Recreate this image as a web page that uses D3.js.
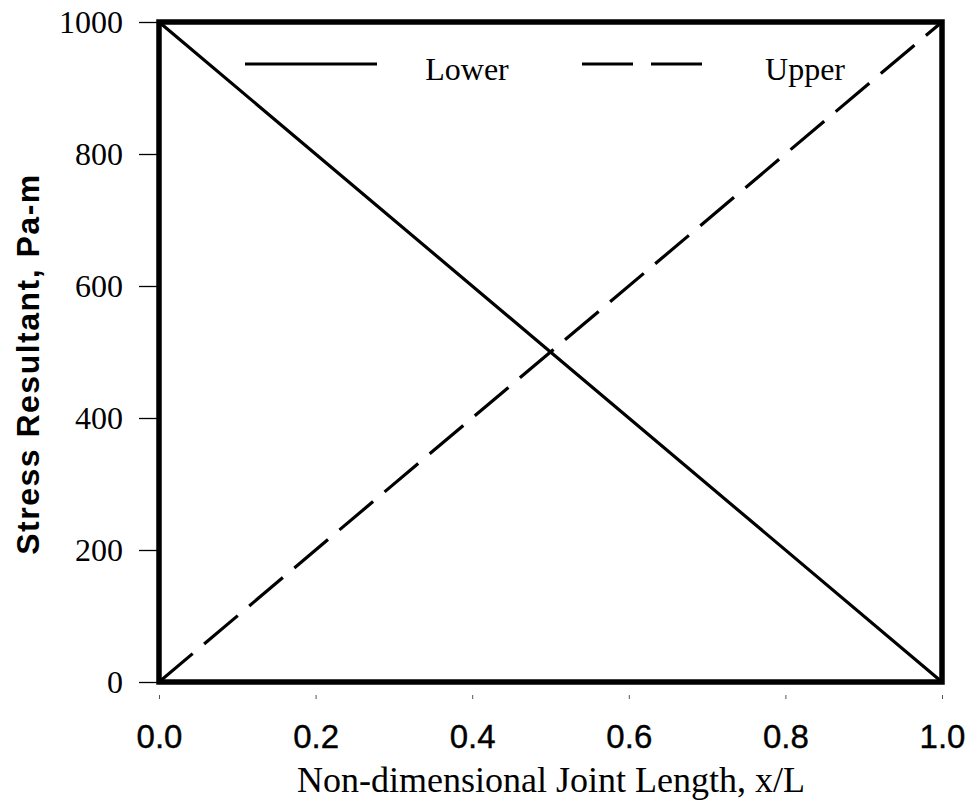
<!DOCTYPE html>
<html>
<head>
<meta charset="utf-8">
<script src="https://cdn.jsdelivr.net/npm/d3@7"></script>
<style>
  body { margin: 0; background: #fff; }
  svg { display: block; }
</style>
</head>
<body>
<svg id="chart" width="974" height="807"></svg>
<script>
// data
const xVals = [0, 0.5, 1];
const lowerVals = [1000, 500, 0];
const upperVals = [0, 500, 1000];
const xTicks = [0, 0.2, 0.4, 0.6, 0.8, 1.0];
const yTicks = [0, 200, 400, 600, 800, 1000];
const seriesNames = ["Lower", "Upper"];

const svg = d3.select("#chart");
const plotL = 159, plotR = 942, plotT = 22, plotB = 682;

const x = d3.scaleLinear().domain([0, 1]).range([plotL, plotR]);
const y = d3.scaleLinear().domain([0, 1000]).range([plotB, plotT]);

// y axis ticks + labels
const yAxis = svg.append("g")
  .attr("transform", `translate(${plotL},0)`)
  .call(d3.axisLeft(y).tickValues(yTicks).tickSize(20).tickPadding(16).tickFormat(d3.format("d")));
yAxis.select(".domain").remove();
yAxis.selectAll("line").attr("stroke", "#000").attr("stroke-width", 1.3);
yAxis.selectAll("text")
  .attr("font-family", "'Liberation Serif', 'Times New Roman', serif")
  .attr("font-size", 32).attr("fill", "#000").attr("dy", "0.34em");

// x axis ticks + labels
const xAxis = svg.append("g")
  .attr("transform", `translate(0,${plotB + 13})`)
  .call(d3.axisBottom(x).tickValues(xTicks).tickSize(4).tickPadding(26).tickFormat(d3.format(".1f")));
xAxis.select(".domain").remove();
xAxis.selectAll("line").attr("stroke", "#555").attr("stroke-width", 1);
xAxis.selectAll("text")
  .attr("font-family", "'Liberation Sans', Arial, sans-serif")
  .attr("font-size", 33).attr("fill", "#000")
  .attr("stroke", "#000").attr("stroke-width", 0.4);

// series lines
const line = d3.line().x(d => x(d[0])).y(d => y(d[1]));
svg.append("path")
  .datum(xVals.map((v, i) => [v, lowerVals[i]]))
  .attr("d", line).attr("fill", "none")
  .attr("stroke", "#000").attr("stroke-width", 3.2);
svg.append("path")
  .datum(xVals.map((v, i) => [v, upperVals[i]]))
  .attr("d", line).attr("fill", "none")
  .attr("stroke", "#000").attr("stroke-width", 3.2)
  .attr("stroke-dasharray", "44,15");

// frame
svg.append("rect")
  .attr("x", plotL).attr("y", plotT)
  .attr("width", plotR - plotL).attr("height", plotB - plotT)
  .attr("fill", "none").attr("stroke", "#000").attr("stroke-width", 5.5);

// legend
const legend = svg.append("g").attr("font-family", "'Liberation Serif', 'Times New Roman', serif")
  .attr("font-size", 32);
const legendItems = [
  { name: seriesNames[0], x0: 245, x1: 377, tx: 467, dash: null },
  { name: seriesNames[1], x0: 582, x1: 704, tx: 805, dash: "51,18" }
];
legendItems.forEach(it => {
  legend.append("line")
    .attr("x1", it.x0).attr("x2", it.x1).attr("y1", 64).attr("y2", 64)
    .attr("stroke", "#000").attr("stroke-width", 2.8)
    .attr("stroke-dasharray", it.dash);
  legend.append("text")
    .attr("x", it.tx).attr("y", 80)
    .attr("text-anchor", "middle").text(it.name);
});

// axis titles
svg.append("text")
  .attr("x", 551).attr("y", 792)
  .attr("text-anchor", "middle")
  .attr("font-family", "'Liberation Serif', 'Times New Roman', serif")
  .attr("font-size", 36)
  .text("Non-dimensional Joint Length, x/L");

svg.append("text")
  .attr("transform", `translate(39,364) rotate(-90)`)
  .attr("text-anchor", "middle")
  .attr("font-family", "'Liberation Sans', Arial, sans-serif")
  .attr("font-weight", "bold")
  .attr("font-size", 32)
  .attr("letter-spacing", 1.5)
  .text("Stress Resultant, Pa-m");
</script>
</body>
</html>
